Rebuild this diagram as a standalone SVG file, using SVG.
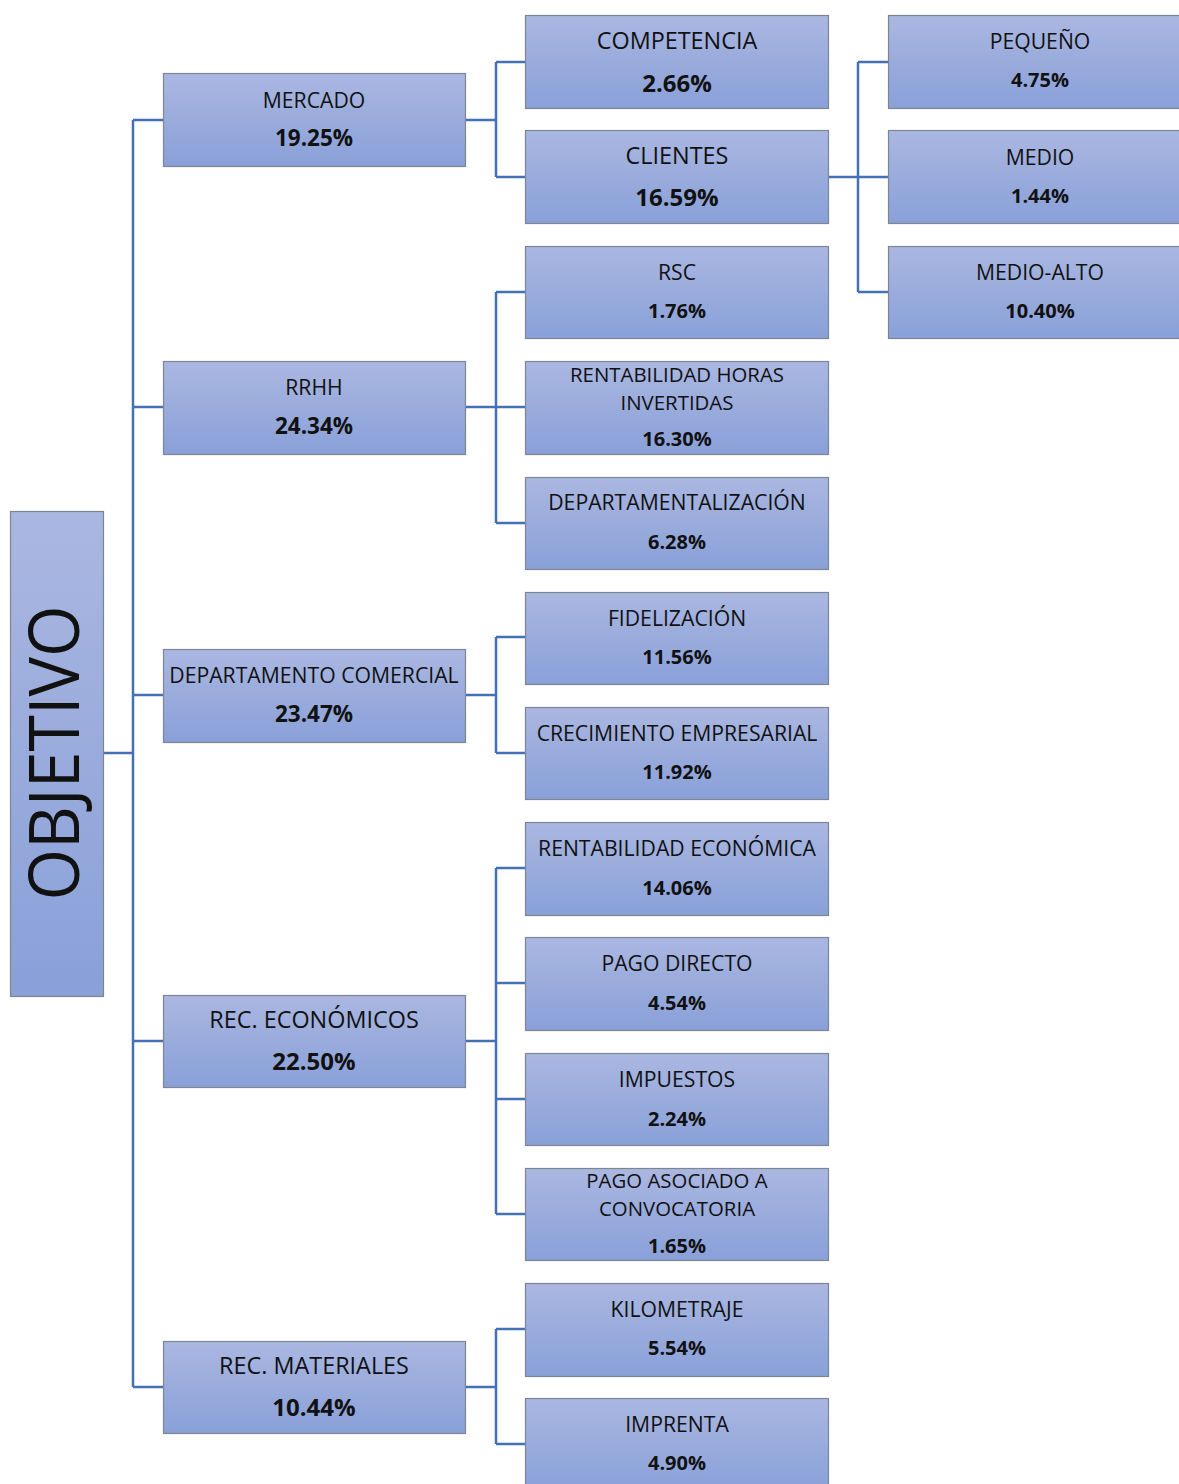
<svg xmlns="http://www.w3.org/2000/svg" width="1179" height="1484" viewBox="0 0 1179 1484">
<defs>
<linearGradient id="g" x1="0" y1="0" x2="0" y2="1">
<stop offset="0" stop-color="#aab7e1"/>
<stop offset="1" stop-color="#89a0d8"/>
</linearGradient>
<style>
.box{fill:url(#g);stroke:#7f8590;stroke-width:1.2}
text{font-family:"Open Sans","Liberation Sans",sans-serif;fill:#111;text-anchor:middle}
.l{font-size:21.2px}
.l2{font-size:20.4px}
.p{font-size:20px;font-weight:bold}
.lm{font-size:21.2px}
.pm{font-size:22.5px;font-weight:bold}
.lb{font-size:23.4px}
.pb{font-size:24px;font-weight:bold}
.obj{font-size:70px;font-weight:normal}
.con path{fill:none;stroke:#4470b8;stroke-width:2.5}
</style>
</defs>
<g class="con">
<path d="M103 753H133M133 120V1387M133 120H163M133 407H163M133 695H163M133 1041H163M133 1387H163"/>
<path d="M466 120H496M496 62V177M496 62H525M496 177H525"/>
<path d="M466 407H496M496 292V523M496 292H525M496 407H525M496 523H525"/>
<path d="M466 695H496M496 637V753M496 637H525M496 753H525"/>
<path d="M466 1041H496M496 868V1214M496 868H525M496 983H525M496 1099H525M496 1214H525"/>
<path d="M466 1387H496M496 1329V1444M496 1329H525M496 1444H525"/>
<path d="M829 177H858M858 62V292M858 62H888M858 177H888M858 292H888"/>
</g>
<g id="objetivo"><rect class="box" x="10.5" y="511.5" width="93" height="485"/><text class="obj" transform="translate(79 753) rotate(-90)" textLength="295" lengthAdjust="spacingAndGlyphs">OBJETIVO</text></g>
<g id="mercado"><rect class="box" x="163.5" y="73.5" width="302" height="93"/><text class="lm" x="314" y="107.5">MERCADO</text><text class="pm" x="314" y="146">19.25%</text></g>
<g id="rrhh"><rect class="box" x="163.5" y="361.5" width="302" height="93"/><text class="lm" x="314" y="395">RRHH</text><text class="pm" x="314" y="434">24.34%</text></g>
<g id="depcom"><rect class="box" x="163.5" y="649.5" width="302" height="93"/><text class="lm" x="314" y="683">DEPARTAMENTO COMERCIAL</text><text class="pm" x="314" y="722">23.47%</text></g>
<g id="rececon"><rect class="box" x="163.5" y="995.5" width="302" height="92"/><text class="lb" x="314" y="1028">REC. ECONÓMICOS</text><text class="pb" x="314" y="1070">22.50%</text></g>
<g id="recmat"><rect class="box" x="163.5" y="1341.5" width="302" height="92"/><text class="lb" x="314" y="1374">REC. MATERIALES</text><text class="pb" x="314" y="1416">10.44%</text></g>
<g id="competencia"><rect class="box" x="525.5" y="15.5" width="303" height="93"/><text class="lb" x="677" y="49">COMPETENCIA</text><text class="pb" x="677" y="91.5">2.66%</text></g>
<g id="clientes"><rect class="box" x="525.5" y="130.5" width="303" height="93"/><text class="lb" x="677" y="164">CLIENTES</text><text class="pb" x="677" y="206">16.59%</text></g>
<g id="rsc"><rect class="box" x="525.5" y="246.5" width="303" height="92"/><text class="l" x="677" y="280">RSC</text><text class="p" x="677" y="317.5">1.76%</text></g>
<g id="rentHoras"><rect class="box" x="525.5" y="361.5" width="303" height="93"/><text class="l2" x="677" y="382">RENTABILIDAD HORAS</text><text class="l2" x="677" y="410">INVERTIDAS</text><text class="p" x="677" y="445.5">16.30%</text></g>
<g id="depart"><rect class="box" x="525.5" y="477.5" width="303" height="92"/><text class="l" x="677" y="510">DEPARTAMENTALIZACIÓN</text><text class="p" x="677" y="548.5">6.28%</text></g>
<g id="fidel"><rect class="box" x="525.5" y="592.5" width="303" height="92"/><text class="l" x="677" y="626">FIDELIZACIÓN</text><text class="p" x="677" y="663.5">11.56%</text></g>
<g id="crecim"><rect class="box" x="525.5" y="707.5" width="303" height="92"/><text class="l" x="677" y="741">CRECIMIENTO EMPRESARIAL</text><text class="p" x="677" y="778.5">11.92%</text></g>
<g id="rentEcon"><rect class="box" x="525.5" y="822.5" width="303" height="93"/><text class="l" x="677" y="856">RENTABILIDAD ECONÓMICA</text><text class="p" x="677" y="894.5">14.06%</text></g>
<g id="pagoDirecto"><rect class="box" x="525.5" y="937.5" width="303" height="93"/><text class="l" x="677" y="971">PAGO DIRECTO</text><text class="p" x="677" y="1009.5">4.54%</text></g>
<g id="impuestos"><rect class="box" x="525.5" y="1053.5" width="303" height="92"/><text class="l" x="677" y="1087">IMPUESTOS</text><text class="p" x="677" y="1125.5">2.24%</text></g>
<g id="pagoAsoc"><rect class="box" x="525.5" y="1168.5" width="303" height="92"/><text class="l2" x="677" y="1188">PAGO ASOCIADO A</text><text class="l2" x="677" y="1216">CONVOCATORIA</text><text class="p" x="677" y="1252.5">1.65%</text></g>
<g id="kilometraje"><rect class="box" x="525.5" y="1283.5" width="303" height="93"/><text class="l" x="677" y="1317">KILOMETRAJE</text><text class="p" x="677" y="1354.5">5.54%</text></g>
<g id="imprenta"><rect class="box" x="525.5" y="1398.5" width="303" height="93"/><text class="l" x="677" y="1432">IMPRENTA</text><text class="p" x="677" y="1469.5">4.90%</text></g>
<g id="pequeno"><rect class="box" x="888.5" y="15.5" width="300" height="93"/><text class="l" x="1040" y="49">PEQUEÑO</text><text class="p" x="1040" y="86.5">4.75%</text></g>
<g id="medio"><rect class="box" x="888.5" y="130.5" width="300" height="93"/><text class="l" x="1040" y="165">MEDIO</text><text class="p" x="1040" y="202.5">1.44%</text></g>
<g id="medioAlto"><rect class="box" x="888.5" y="246.5" width="300" height="92"/><text class="l" x="1040" y="280">MEDIO-ALTO</text><text class="p" x="1040" y="317.5">10.40%</text></g>
</svg>
